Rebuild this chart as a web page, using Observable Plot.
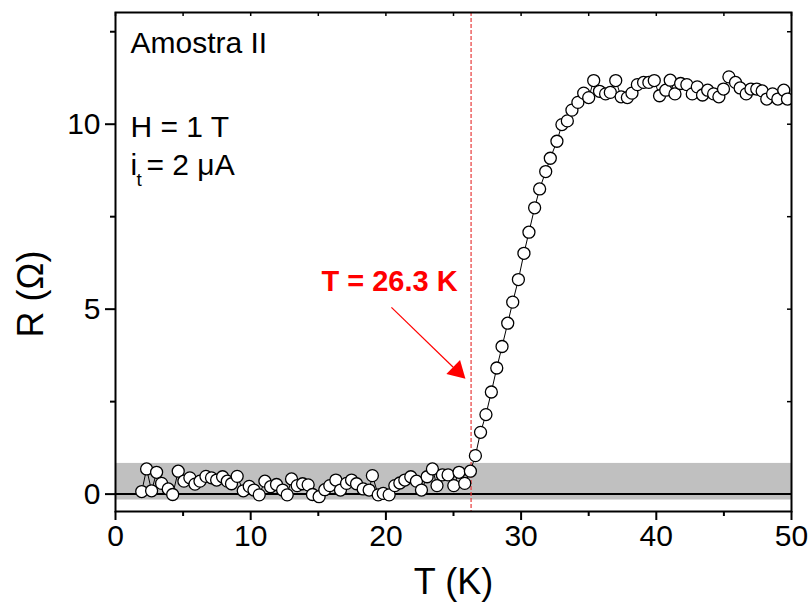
<!DOCTYPE html>
<html><head><meta charset="utf-8">
<script src="https://cdn.jsdelivr.net/npm/d3@7"></script>
<script src="https://cdn.jsdelivr.net/npm/@observablehq/plot@0.6"></script>
<style>body{margin:0;background:#fff}</style>
</head><body><div id="chart"></div>
<script>
// ---- data ----
const temperature = [
  1.94, 2.3, 2.67, 3.04, 3.41, 3.9, 4.23, 4.64, 5.06, 5.5, 5.88, 6.25, 6.69, 7.1, 7.48, 7.92,
  8.27, 8.58, 9.0, 9.45, 9.89, 10.24, 10.63, 11.05, 11.47, 11.91, 12.36, 12.7, 13.02, 13.44,
  13.84, 14.25, 14.57, 15.06, 15.48, 15.85, 16.3, 16.64, 17.09, 17.46, 17.83, 18.32, 18.76,
  19.0, 19.43, 19.8, 20.24, 20.66, 21.03, 21.4, 21.84, 22.26, 22.63, 23.05, 23.44, 23.78,
  24.18, 24.6, 25.02, 25.41, 25.83, 26.25, 26.62, 27.0, 27.4, 27.8, 28.2, 28.59, 29.01,
  29.38, 29.8, 30.21, 30.58, 31.0, 31.37, 31.82, 32.16, 32.65, 33.02, 33.42, 33.76, 34.2,
  34.63, 35.0, 35.37, 35.8, 36.25, 36.6, 37.0, 37.4, 37.86, 38.2, 38.6, 39.06, 39.45, 39.85,
  40.24, 40.7, 41.03, 41.38, 41.8, 42.26, 42.66, 43.03, 43.42, 43.8, 44.24, 44.63, 44.97,
  45.37, 45.86, 46.2, 46.65, 47.0, 47.43, 47.83, 48.17, 48.6, 48.99, 49.43, 49.7
];
const resistance = [
  0.07, 0.68, 0.09, 0.59, 0.29, 0.14, -0.01, 0.62, 0.35, 0.44, 0.27, 0.35, 0.48, 0.44, 0.38, 0.47,
  0.35, 0.28, 0.48, 0.09, 0.21, 0.11, -0.02, 0.35, 0.2, 0.26, 0.11, -0.02, 0.41, 0.23,
  0.28, 0.25, -0.01, -0.07, 0.12, 0.23, 0.38, 0.11, 0.29, 0.38, 0.28, 0.14, 0.11,
  0.5, -0.02, 0.02, -0.02, 0.23, 0.3, 0.38, 0.47, 0.35, 0.11, 0.47, 0.68, 0.23,
  0.52, 0.52, 0.23, 0.59, 0.29, 0.62, 1.04, 1.67, 2.15, 2.76, 3.41, 3.99, 4.62,
  5.19, 5.80, 6.51, 7.08, 7.74, 8.25, 8.72, 9.08, 9.54, 9.99, 10.09, 10.38, 10.59,
  10.84, 10.72, 11.18, 10.89, 10.82, 10.86, 11.18, 10.74, 10.72, 10.84, 11.07, 11.13, 11.13, 11.18,
  10.77, 10.92, 11.19, 10.82, 11.1, 11.07, 10.82, 11.01, 10.79, 10.92, 10.82, 10.74, 10.95,
  11.28, 11.13, 10.98, 10.82, 10.95, 10.95, 10.9, 10.68, 10.82, 10.68, 10.92, 10.68
];

const xDomain = [0, 50];
const yDomain = [-0.47, 13.02];
const xTicks = [0, 10, 20, 30, 40, 50];
const xMinorTicks = [5, 15, 25, 35, 45];
const yTicks = [0, 5, 10];
const yMinorTicks = [2.5, 7.5, 12.5];

const noiseBand = [-0.16, 0.83];
const transitionT = 26.3;
const transitionLabel = "T = 26.3 K";
const arrowFrom = [20.41, 5.05];
const arrowTo = [24.98, 3.43];
const arrowHead = [25.28, 3.33];

const sampleLabel = "Amostra II";
const fieldLabel = "H = 1 T";
const currentSymbol = "i";
const currentSub = "t";
const currentValue = "= 2 μA";
const xLabel = "T (K)";
const yLabel = "R (Ω)";

// ---- chart ----
const data = temperature.map((t, i) => ({t, r: resistance[i]}));
const font = "'Liberation Sans', Arial, Helvetica, sans-serif";
const innerW = 811 - 115 - 20, innerH = 603 - 12 - 92;

const chart = Plot.plot({
  width: 811, height: 603,
  marginLeft: 115, marginRight: 20, marginTop: 12, marginBottom: 92,
  style: {fontFamily: font, fontSize: "30px", background: "white", color: "black"},
  x: {domain: xDomain},
  y: {domain: yDomain},
  marks: [
    Plot.rect([noiseBand], {x1: xDomain[0], x2: xDomain[1], y1: d => d[0], y2: d => d[1], fill: "#c0c0c0"}),
    Plot.ruleY([0], {stroke: "black", strokeWidth: 2}),
    Plot.ruleX([transitionT], {stroke: "#e83c3c", strokeWidth: 1.2, strokeDasharray: "4,2"}),
    Plot.line(data, {x: "t", y: "r", stroke: "black", strokeWidth: 1, clip: true}),
    Plot.dot(data, {x: "t", y: "r", r: 6, fill: "white", stroke: "black", strokeWidth: 1.3, clip: true}),
    Plot.frame({stroke: "black", strokeWidth: 2}),
    // axes
    Plot.axisX({ticks: xTicks, tickSize: 9, tickPadding: 4, strokeWidth: 2, label: null, tickFormat: d => String(d)}),
    Plot.axisX({ticks: xMinorTicks, tickSize: 5, strokeWidth: 2, label: null, tickFormat: () => ""}),
    Plot.axisY({ticks: yTicks, tickSize: 10, tickPadding: 5, strokeWidth: 2, label: null, tickFormat: d => String(d)}),
    Plot.axisY({ticks: yMinorTicks, tickSize: 5, strokeWidth: 2, label: null, tickFormat: () => ""}),
    Plot.tickX([...xTicks, ...xMinorTicks], {x: d => d, stroke: "black", strokeWidth: 1.5, insetBottom: innerH - 4}),
    Plot.tickY([...yTicks, ...yMinorTicks], {y: d => d, stroke: "black", strokeWidth: 1.5, insetLeft: innerW - 4}),
    // axis titles
    Plot.text([xLabel], {text: d => d, frameAnchor: "bottom", dy: 82, lineAnchor: "bottom", textAnchor: "middle", fontSize: 36}),
    Plot.text([yLabel], {text: d => d, frameAnchor: "left", rotate: -90, dx: -73, dy: 32, lineAnchor: "bottom", textAnchor: "middle", fontSize: 36}),
    // annotations
    Plot.text([sampleLabel], {text: d => d, frameAnchor: "top-left", dx: 15, dy: 40, lineAnchor: "bottom", textAnchor: "start", fontSize: 30}),
    Plot.text([fieldLabel], {text: d => d, frameAnchor: "top-left", dx: 15, dy: 124, lineAnchor: "bottom", textAnchor: "start", fontSize: 30}),
    Plot.text([currentSymbol], {text: d => d, frameAnchor: "top-left", dx: 15, dy: 162, lineAnchor: "bottom", textAnchor: "start", fontSize: 30}),
    Plot.text([currentSub], {text: d => d, frameAnchor: "top-left", dx: 21, dy: 173, lineAnchor: "bottom", textAnchor: "start", fontSize: 19}),
    Plot.text([currentValue], {text: d => d, frameAnchor: "top-left", dx: 31, dy: 162, lineAnchor: "bottom", textAnchor: "start", fontSize: 30}),
    Plot.text([transitionLabel], {text: d => d, frameAnchor: "top-left", dx: 274, dy: 278, lineAnchor: "bottom", textAnchor: "middle", fontSize: 29, fontWeight: "bold", fill: "#ff0000"}),
    Plot.link([0], {x1: arrowFrom[0], y1: arrowFrom[1], x2: arrowTo[0], y2: arrowTo[1], stroke: "#ff0000", strokeWidth: 1.2}),
    Plot.dot([arrowHead], {x: d => d[0], y: d => d[1], symbol: "triangle", r: 7.3, rotate: 134, fill: "#ff0000", stroke: "none"})
  ]
});
document.getElementById("chart").appendChild(chart);
</script>
</body></html>
